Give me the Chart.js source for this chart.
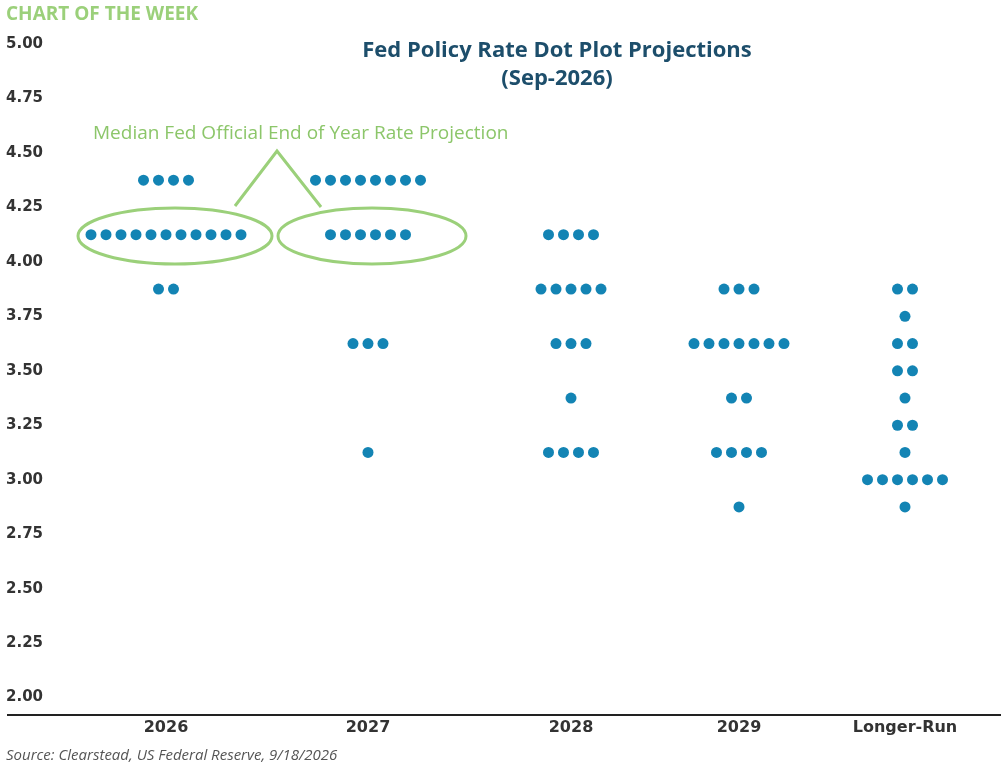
<!DOCTYPE html>
<html><head><meta charset="utf-8">
<script src="https://cdn.jsdelivr.net/npm/chart.js@4/dist/chart.umd.min.js"></script>
<style>html,body{margin:0;padding:0;background:#fff}#wrap{width:1008px;height:769px;position:relative}</style>
</head><body><div id="wrap"><canvas id="c"></canvas></div>
<script>
const categories = ["2026","2027","2028","2029","Longer-Run"];
const yTicks = [2.00,2.25,2.50,2.75,3.00,3.25,3.50,3.75,4.00,4.25,4.50,4.75,5.00];
const rates2026 = [4.375,4.125,3.875];          const counts2026 = [4,11,2];
const rates2027 = [4.375,4.125,3.625,3.125];    const counts2027 = [8,6,3,1];
const rates2028 = [4.125,3.875,3.625,3.375,3.125]; const counts2028 = [4,5,3,1,4];
const rates2029 = [3.875,3.625,3.375,3.125,2.875]; const counts2029 = [3,7,2,4,1];
const ratesLR = [3.875,3.75,3.625,3.5,3.375,3.25,3.125,3.0,2.875]; const countsLR = [2,1,2,2,1,2,1,6,1];

const catPos = [166,368,571,739,905];
const spacing = 15;
const groups = [[rates2026,counts2026],[rates2027,counts2027],[rates2028,counts2028],[rates2029,counts2029],[ratesLR,countsLR]];
const pts = [];
groups.forEach((g,i)=>{
  g[0].forEach((r,k)=>{const n=g[1][k];for(let j=0;j<n;j++)pts.push({x:catPos[i]+(j-(n-1)/2)*spacing,y:r});});
});

const deco = {id:'deco',afterDraw(ch){
  const c=ch.ctx;c.save();
  c.fillStyle='#9bd07a';c.font='bold 19px "Open Sans"';c.textAlign='left';c.textBaseline='middle';
  c.fillText('CHART OF THE WEEK',6,15);
  c.fillStyle='#1d4e6b';c.font='bold 22px "Open Sans"';c.textAlign='center';
  c.fillText('Fed Policy Rate Dot Plot Projections',557,51);
  c.fillText('(Sep-2026)',557,79);
  c.fillStyle='#555';c.font='italic 15px "Open Sans"';c.textAlign='left';
  c.fillText('Source: Clearstead, US Federal Reserve, 9/18/2026',6,756);
  c.strokeStyle='#9bd07a';c.lineWidth=3;
  c.beginPath();c.ellipse(175,236,97,28,0,0,Math.PI*2);c.stroke();
  c.beginPath();c.ellipse(372,236,94,28,0,0,Math.PI*2);c.stroke();
  c.beginPath();c.moveTo(235,206);c.lineTo(277,151);c.lineTo(321,207);c.stroke();
  c.fillStyle='#8cc66a';c.font='19px "Open Sans"';c.textAlign='left';
  c.fillText('Median Fed Official End of Year Rate Projection',93,134);
  c.restore();
}};

new Chart(document.getElementById('c'),{
  type:'scatter',
  data:{datasets:[{data:pts,backgroundColor:'#1384b4',borderWidth:0,pointRadius:5.5,pointHoverRadius:5.5}]},
  options:{responsive:true,maintainAspectRatio:false,animation:false,
    layout:{padding:{left:8,right:8,top:44,bottom:0}},
    plugins:{legend:{display:false},tooltip:{enabled:false}},
    scales:{
      x:{type:'linear',min:8,max:1000,
        afterBuildTicks(s){s.ticks=catPos.map(v=>({value:v}));},
        afterFit(s){s.height=54;},
        ticks:{autoSkip:false,maxRotation:0,padding:3,color:'#333',font:{family:'DejaVu Sans',weight:'bold',size:16},
          callback:(v)=>{const i=catPos.indexOf(v);return i>=0?categories[i]:'';}},
        grid:{display:false,drawTicks:false},border:{color:'#222',width:2}},
      y:{min:1.92,max:5.0,
        afterBuildTicks(s){s.ticks=yTicks.map(v=>({value:v}));},
        afterFit(s){s.width=0;},
        ticks:{mirror:true,padding:-2,color:'#333',font:{family:'DejaVu Sans',weight:'bold',size:15},callback:v=>Number(v).toFixed(2)},
        grid:{display:false,drawTicks:false},border:{display:false}}
    }},
  plugins:[deco]
});
</script></body></html>
